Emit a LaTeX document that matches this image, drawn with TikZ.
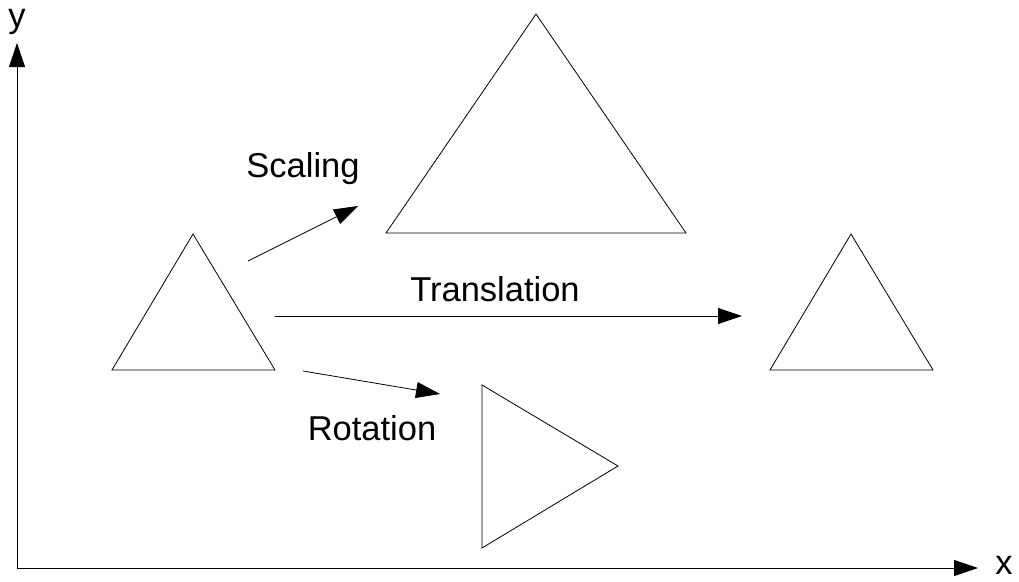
\documentclass[tikz,border=0pt]{standalone}
\usepackage{fontspec}
\setmainfont{Liberation Sans}
\usetikzlibrary{arrows.meta}
\begin{document}
\begin{tikzpicture}[x=1pt,y=-1pt,
  tri/.style={draw=black,line width=0.8pt,line join=miter},
  conn/.style={draw=black,line width=0.8pt,-{Triangle[length=24pt,width=16pt]}},
  lbl/.style={font=\fontsize{34.5}{41}\selectfont,inner sep=0pt}]
\useasboundingbox (0,0) rectangle (1019,581);
% axes
\coordinate (O) at (17,568);
\coordinate (ytip) at (17,43);
\coordinate (xtip) at (978,568);
\draw[conn] (O) -- (ytip);
\draw[conn] (O) -- (xtip);
\node[lbl] (ylab) at (17,22) {y};
\node[lbl] (xlab) at (1004,565) {x};
% triangles
\draw[tri] (193,234) -- (275,370) -- (112,370) -- cycle;
\draw[tri] (536,14) -- (686,233) -- (386,233) -- cycle;
\draw[tri] (851,234) -- (933,370) -- (770,370) -- cycle;
\draw[tri] (482,385) -- (618,466) -- (482,548) -- cycle;
% transformation arrows
\coordinate (s1) at (248,261);
\coordinate (s2) at (358,206);
\coordinate (t1) at (275,316);
\coordinate (t2) at (742,316);
\coordinate (r1) at (303,371);
\coordinate (r2) at (440,394);
\draw[conn] (s1) -- (s2);
\draw[conn] (t1) -- (t2);
\draw[conn] (r1) -- (r2);
\node[lbl] (scal) at (303,169) {Scaling};
\node[lbl] (trans) at (495,289) {Translation};
\node[lbl] (rot) at (372,428) {Rotation};
\end{tikzpicture}
\end{document}
